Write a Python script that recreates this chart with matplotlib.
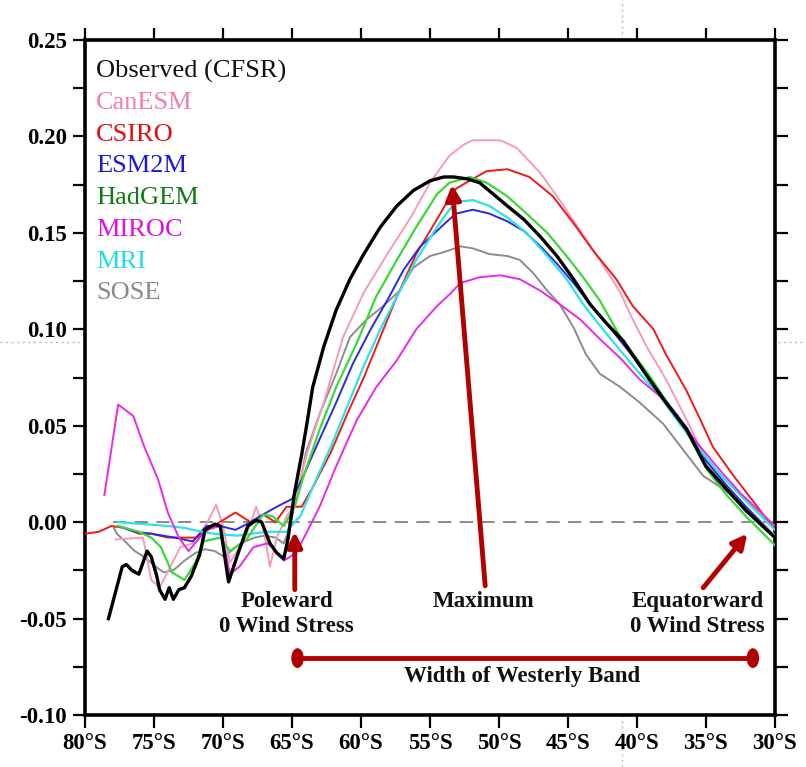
import matplotlib
matplotlib.use("Agg")
import matplotlib.pyplot as plt
from matplotlib.lines import Line2D
from matplotlib.patches import Ellipse

# ---------------- data (latitude in degrees, negative = south) ----------------
obs_lat = [-78.3, -77.3, -77.0, -76.6, -76.1, -75.5, -75.2, -74.8, -74.6, -74.2, -73.9, -73.6,
           -73.2, -72.8, -72.3, -71.7, -71.3, -70.6, -70.2, -69.6, -68.9, -68.2, -67.6, -67.2,
           -66.6, -66.1, -65.6, -65.3, -64.8, -64.3, -63.9, -63.5, -62.7, -61.8, -60.8, -59.8,
           -58.6, -57.4, -56.2, -55.0, -54.0, -53.3, -52.3, -51.4, -50.4, -49.4, -48.2, -47.0,
           -45.8, -44.6, -43.4, -42.2, -41.0, -39.1, -37.9, -36.4, -35.0, -33.5, -32.1, -30.6, -30.0]
obs_val = [-0.050, -0.023, -0.022, -0.025, -0.027, -0.015, -0.018, -0.028, -0.035, -0.040, -0.034, -0.040,
           -0.035, -0.034, -0.028, -0.017, -0.004, -0.001, -0.002, -0.031, -0.016, -0.002, 0.001, 0.000,
           -0.011, -0.016, -0.019, -0.009, 0.016, 0.035, 0.052, 0.070, 0.091, 0.110, 0.126, 0.139,
           0.153, 0.164, 0.172, 0.177, 0.179, 0.179, 0.178, 0.176, 0.170, 0.164, 0.157, 0.148,
           0.138, 0.126, 0.113, 0.103, 0.094, 0.074, 0.062, 0.048, 0.029, 0.017, 0.006, -0.004, -0.008]

can_lat = [-77.8, -75.8, -75.2, -74.6, -73.6, -73.1, -72.2, -71.2, -70.5, -70.0, -69.5, -68.8,
           -68.0, -67.6, -67.1, -66.6, -66.1, -65.4, -64.9, -63.9, -62.7, -61.3, -59.8, -58.1,
           -56.4, -55.0, -53.6, -52.5, -51.9, -49.9, -48.7, -47.0, -45.6, -44.1, -42.7, -41.2,
           -40.5, -39.3, -37.9, -36.4, -35.0, -33.5, -32.1, -30.0]
can_val = [-0.009, -0.008, -0.030, -0.034, -0.020, -0.013, -0.011, -0.001, 0.009, -0.002, -0.021, -0.013,
           -0.001, 0.008, -0.002, -0.023, -0.008, 0.003, 0.008, 0.036, 0.062, 0.096, 0.119, 0.139,
           0.158, 0.176, 0.190, 0.196, 0.198, 0.198, 0.194, 0.181, 0.167, 0.151, 0.136, 0.119,
           0.108, 0.091, 0.074, 0.053, 0.032, 0.017, 0.006, -0.007]

csi_lat = [-80.0, -79.0, -78.1, -77.1, -76.1, -75.2, -74.0, -72.8, -71.9, -70.7, -69.1, -68.0,
           -67.1, -66.2, -65.4, -64.3, -63.5, -62.2, -61.0, -59.8, -58.6, -57.4, -56.0, -54.5,
           -53.6, -53.1, -51.9, -50.9, -49.4, -47.8, -46.1, -44.6, -43.2, -41.5, -40.3, -38.8,
           -37.9, -36.4, -35.4, -34.5, -33.0, -31.6, -30.0]
csi_val = [-0.006, -0.005, -0.002, -0.003, -0.006, -0.006, -0.008, -0.008, -0.008, -0.002, 0.005, 0.000,
           0.004, 0.000, 0.008, 0.008, 0.018, 0.036, 0.056, 0.075, 0.096, 0.117, 0.139, 0.157,
           0.168, 0.173, 0.178, 0.182, 0.183, 0.179, 0.169, 0.155, 0.141, 0.126, 0.112, 0.100,
           0.087, 0.068, 0.053, 0.039, 0.024, 0.011, -0.004]

esm_lat = [-77.6, -76.4, -75.2, -73.5, -72.2, -71.2, -70.2, -69.1, -68.0, -67.1, -66.1, -65.0,
           -64.3, -63.0, -61.8, -60.6, -59.3, -58.1, -56.9, -55.7, -54.5, -53.6, -53.1, -51.9,
           -50.7, -49.4, -48.2, -47.0, -45.8, -44.6, -43.4, -42.2, -41.2, -39.1, -37.9, -36.4,
           -35.0, -33.5, -32.1, -30.0]
esm_val = [-0.002, -0.005, -0.006, -0.008, -0.010, -0.002, -0.002, -0.004, 0.000, 0.004, 0.008, 0.012,
           0.022, 0.043, 0.062, 0.082, 0.100, 0.115, 0.131, 0.143, 0.151, 0.157, 0.160, 0.162,
           0.160, 0.156, 0.151, 0.143, 0.134, 0.124, 0.113, 0.103, 0.094, 0.075, 0.063, 0.049,
           0.032, 0.019, 0.008, -0.008]

had_lat = [-77.6, -76.1, -75.2, -74.5, -73.7, -72.8, -72.0, -71.4, -70.2, -69.5, -68.3, -67.1,
           -66.4, -65.6, -64.8, -64.2, -63.0, -61.8, -60.3, -58.9, -57.4, -56.0, -54.5, -53.6,
           -52.1, -50.9, -49.4, -48.0, -46.5, -45.1, -43.9, -42.7, -41.2, -39.1, -37.9, -36.4,
           -35.0, -33.5, -32.1, -30.0]
had_val = [-0.002, -0.005, -0.008, -0.013, -0.026, -0.030, -0.021, -0.010, -0.008, -0.015, -0.009, 0.004,
           0.003, -0.002, 0.008, 0.023, 0.048, 0.070, 0.093, 0.117, 0.136, 0.153, 0.170, 0.176,
           0.179, 0.176, 0.169, 0.160, 0.150, 0.138, 0.127, 0.115, 0.096, 0.076, 0.063, 0.047,
           0.028, 0.014, 0.003, -0.012]

mir_lat = [-78.6, -77.6, -76.5, -75.7, -74.7, -74.0, -73.2, -72.5, -71.8, -71.2, -70.2, -69.5,
           -68.8, -67.8, -66.8, -66.4, -65.6, -64.7, -63.7, -63.0, -61.8, -60.3, -58.9, -57.4,
           -56.0, -54.5, -53.6, -52.8, -51.4, -49.9, -48.5, -47.0, -45.6, -44.1, -42.7, -41.2,
           -39.8, -38.3, -36.9, -35.4, -34.0, -32.5, -30.0]
mir_val = [0.014, 0.061, 0.055, 0.039, 0.022, 0.005, -0.008, -0.015, -0.009, -0.004, -0.002, -0.027,
           -0.023, -0.013, -0.011, -0.013, -0.020, -0.016, -0.002, 0.008, 0.029, 0.053, 0.070, 0.084,
           0.100, 0.112, 0.118, 0.124, 0.127, 0.128, 0.126, 0.120, 0.113, 0.105, 0.095, 0.085,
           0.074, 0.065, 0.053, 0.039, 0.027, 0.015, -0.002]

mri_lat = [-77.6, -75.7, -74.0, -72.8, -71.5, -70.7, -69.0, -66.8, -65.4, -64.7, -64.4, -63.5,
           -62.2, -61.0, -59.8, -58.6, -57.4, -56.0, -54.5, -53.6, -53.1, -51.9, -50.7, -49.4,
           -48.0, -46.5, -45.1, -43.9, -42.7, -41.2, -39.8, -38.3, -36.9, -35.4, -34.0, -32.1, -30.0]
mri_val = [0.000, -0.001, -0.002, -0.003, -0.005, -0.006, -0.007, -0.005, -0.005, 0.001, 0.003, 0.018,
           0.039, 0.060, 0.081, 0.100, 0.117, 0.136, 0.153, 0.162, 0.166, 0.167, 0.164, 0.158,
           0.150, 0.138, 0.126, 0.113, 0.102, 0.089, 0.077, 0.065, 0.051, 0.037, 0.025, 0.011, -0.004]

sose_lat = [-77.9, -77.7, -77.1, -76.4, -75.7, -74.9, -74.3, -73.6, -72.8, -72.0, -71.3, -70.6,
            -69.9, -69.1, -68.4, -67.7, -67.0, -66.2, -65.6, -65.1, -64.8, -64.3, -64.0, -63.0,
            -61.8, -60.8, -59.6, -58.4, -57.2, -56.2, -55.0, -54.0, -52.8, -51.9, -50.7, -49.4,
            -48.5, -47.5, -46.5, -45.6, -44.6, -43.7, -42.7, -41.2, -39.8, -38.1, -36.6, -35.2,
            -33.7, -32.1, -30.0]
sose_val = [-0.003, -0.006, -0.010, -0.015, -0.018, -0.023, -0.026, -0.025, -0.020, -0.016, -0.014, -0.015,
            -0.018, -0.013, -0.010, -0.008, -0.007, -0.008, -0.011, -0.002, 0.011, 0.025, 0.036, 0.056,
            0.077, 0.096, 0.105, 0.112, 0.120, 0.132, 0.138, 0.140, 0.143, 0.142, 0.139, 0.138,
            0.136, 0.129, 0.120, 0.113, 0.101, 0.087, 0.077, 0.070, 0.062, 0.051, 0.037, 0.024,
            0.017, 0.008, -0.007]

series_names = ["Observed (CFSR)", "CanESM", "CSIRO", "ESM2M", "HadGEM", "MIROC", "MRI", "SOSE"]
series_lats = [obs_lat, can_lat, csi_lat, esm_lat, had_lat, mir_lat, mri_lat, sose_lat]
series_vals = [obs_val, can_val, csi_val, esm_val, had_val, mir_val, mri_val, sose_val]

x_ticks = [-80, -75, -70, -65, -60, -55, -50, -45, -40, -35, -30]
x_ticklabels = ["80°S", "75°S", "70°S", "65°S", "60°S", "55°S", "50°S", "45°S", "40°S", "35°S", "30°S"]
y_ticks = [-0.10, -0.05, 0.00, 0.05, 0.10, 0.15, 0.20, 0.25]
y_ticklabels = ["-0.10", "-0.05", "0.00", "0.05", "0.10", "0.15", "0.20", "0.25"]
y_minor = [-0.075, -0.025, 0.025, 0.075, 0.125, 0.175, 0.225]

# ---------------- styles ----------------
line_colors = ["#000000", "#f59ab8", "#ee1a1a", "#2a2ae0", "#3ad83a", "#e82ae8", "#2ae2ea", "#8c8c8c"]
text_colors = ["#111111", "#f07fb0", "#e01010", "#1a1ad8", "#137a13", "#e010e0", "#20dde5", "#8a8a8a"]
line_widths = [2.4, 1.4, 1.4, 1.4, 1.6, 1.4, 1.6, 1.4]
SERIF = ["Liberation Serif", "DejaVu Serif"]
ARROW = "#b00000"

fig = plt.figure(figsize=(8.06, 7.67), dpi=100)
ax = fig.add_axes([0.1055, 0.0678, 0.856, 0.88])

# zero line
ax.plot([-78.0, -30.0], [0, 0], color="#777777", lw=1.2, dashes=(8, 5), zorder=1)

order = [7, 1, 2, 3, 6, 5, 4, 0]
for i in order:
    ax.plot(series_lats[i], series_vals[i], color=line_colors[i], lw=line_widths[i],
            zorder=3 if i else 4)

ax.set_xlim(-80, -30)
ax.set_ylim(-0.10, 0.25)
ax.set_xticks(x_ticks)
ax.set_xticklabels(x_ticklabels)
ax.set_yticks(y_ticks)
ax.set_yticklabels(y_ticklabels)
ax.set_yticks(y_minor, minor=True)
ax.tick_params(which="both", direction="out", length=9, width=1.6, top=True, right=True,
               labeltop=False, labelright=False, pad=4)
for lab in ax.get_xticklabels() + ax.get_yticklabels():
    lab.set_fontfamily(SERIF)
    lab.set_fontweight("bold")
    lab.set_fontsize(16.5)
for sp in ax.spines.values():
    sp.set_linewidth(2.6)

# legend as coloured text
for k, name in enumerate(series_names):
    ax.text(0.016, 0.97 - k * 0.047, name, transform=ax.transAxes, color=text_colors[k],
            fontsize=19, family=SERIF, va="top", ha="left")

# annotations
tfont = dict(family=SERIF, fontweight="bold", fontsize=16.5, ha="center", va="center", color="#111111")
ax.annotate("", xy=(-64.8, -0.005), xytext=(-64.8, -0.035),
            arrowprops=dict(arrowstyle="-|>", lw=3.5, color=ARROW, mutation_scale=22,
                            shrinkA=0, shrinkB=0))
ax.annotate("", xy=(-53.4, 0.175), xytext=(-51.0, -0.033),
            arrowprops=dict(arrowstyle="-|>", lw=3.5, color=ARROW, mutation_scale=22,
                            shrinkA=0, shrinkB=0))
ax.annotate("", xy=(-32.0, -0.006), xytext=(-35.2, -0.034),
            arrowprops=dict(arrowstyle="-|>", lw=3.5, color=ARROW, mutation_scale=22,
                            shrinkA=0, shrinkB=0))
ax.text(-65.4, -0.041, "Poleward", **tfont)
ax.text(-65.4, -0.054, "0 Wind Stress", **tfont)
ax.text(-51.1, -0.041, "Maximum", **tfont)
ax.text(-35.6, -0.041, "Equatorward", **tfont)
ax.text(-35.6, -0.054, "0 Wind Stress", **tfont)

ax.plot([-64.6, -31.6], [-0.0705, -0.0705], color=ARROW, lw=3.5, solid_capstyle="butt", zorder=5)
for xe in (-64.6, -31.6):
    ax.add_patch(Ellipse((xe, -0.0705), 0.8, 0.0095, color=ARROW, zorder=6))
ax.text(-48.3, -0.080, "Width of Westerly Band", **tfont)

# faint dotted crosshair lines across the figure
fig.add_artist(Line2D([0.7717, 0.7717], [0, 1], transform=fig.transFigure, color="#bbbbbb",
                      lw=1.0, ls=(0, (1.5, 2.5)), zorder=0))
fig.add_artist(Line2D([0, 1], [0.554, 0.554], transform=fig.transFigure, color="#bbbbbb",
                      lw=1.0, ls=(0, (1.5, 2.5)), zorder=0))

fig.savefig("out.png", dpi=100)
